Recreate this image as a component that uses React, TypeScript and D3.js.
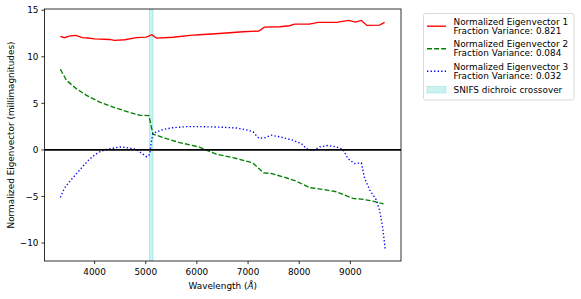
import React from "react";
import * as d3 from "d3";

const redWl = [3330, 3410, 3520, 3630, 3760, 3870, 4000, 4290, 4390, 4590, 4815, 5010, 5120, 5210, 5530, 5920, 6050, 6440, 6900, 7210, 7320, 7620, 7810, 7910, 8200, 8370, 8730, 8970, 9100, 9215, 9325, 9570, 9670];
const redVal = [12.2, 12.05, 12.25, 12.3, 12.05, 12.02, 11.92, 11.86, 11.76, 11.83, 12.05, 12.11, 12.37, 12.0, 12.1, 12.33, 12.37, 12.5, 12.69, 12.76, 13.18, 13.22, 13.33, 13.5, 13.5, 13.69, 13.69, 13.9, 13.72, 13.9, 13.37, 13.4, 13.69];

const greenWl = [3330, 3450, 3640, 3840, 4100, 4390, 4720, 4880, 5060, 5140, 5400, 5660, 6050, 6380, 6700, 7090, 7190, 7300, 7450, 7680, 7940, 8200, 8460, 8730, 9050, 9250, 9440, 9650];
const greenVal = [8.65, 7.47, 6.58, 5.86, 5.14, 4.54, 3.97, 3.72, 3.69, 1.7, 1.22, 0.79, 0.3, -0.46, -0.82, -1.39, -1.89, -2.46, -2.53, -2.89, -3.35, -4.05, -4.24, -4.5, -5.2, -5.32, -5.5, -5.8];

const blueWl = [3330, 3410, 3510, 3640, 3780, 3900, 4000, 4100, 4230, 4490, 4620, 4815, 4910, 5020, 5075, 5110, 5140, 5210, 5340, 5530, 5790, 6050, 6440, 6770, 6970, 7100, 7210, 7320, 7450, 7620, 7880, 8040, 8140, 8270, 8400, 8560, 8730, 8860, 8950, 9080, 9215, 9280, 9380, 9510, 9570, 9630, 9680];
const blueVal = [-5.1, -4.1, -3.4, -2.6, -1.7, -1.0, -0.55, -0.2, 0.04, 0.32, 0.26, 0.04, -0.32, -0.75, -0.5, 0.9, 1.76, 1.93, 2.2, 2.38, 2.5, 2.5, 2.45, 2.35, 2.15, 1.93, 1.25, 1.3, 1.58, 1.4, 1.04, 0.69, 0.15, -0.1, 0.32, 0.47, 0.32, 0.04, -0.92, -1.46, -1.39, -3.07, -4.32, -5.39, -6.46, -8.25, -10.6];

const bandRange = [5070, 5140];
const xTicks = [4000, 5000, 6000, 7000, 8000, 9000];
const yTicks = [-10, -5, 0, 5, 10, 15];
const legendLabels = [
  ["Normalized Eigenvector 1", "Fraction Variance: 0.821"],
  ["Normalized Eigenvector 2", "Fraction Variance: 0.084"],
  ["Normalized Eigenvector 3", "Fraction Variance: 0.032"],
  ["SNIFS dichroic crossover"],
];

const FONT = "DejaVu Sans, sans-serif";

export default function App() {
  const L = 44.5, R = 401, T = 9, B = 261;
  const x = d3.scaleLinear().domain([3020, 9990]).range([L, R]);
  const y = d3.scaleLinear().domain([-11.93, 15.13]).range([B, T]);
  const line = (wl: number[], v: number[]) =>
    d3.line<number>().x((_, i) => x(wl[i])).y((d) => y(d))(v) || "";
  const fmt = (v: number) => (v < 0 ? "\u2212" + Math.abs(v) : String(v));

  const lw = 1.35;
  const series = [
    { d: line(redWl, redVal), color: "#ff0000", dash: "none" },
    { d: line(greenWl, greenVal), color: "#008000", dash: "5,2.1" },
    { d: line(blueWl, blueVal), color: "#0000ff", dash: "1.35,2.2" },
  ];
  const lx0 = 427, lx1 = 446, tx = 453.5;
  const entryY = [[21.7, 30.7], [44.2, 53.2], [66.7, 75.7], [89.7]];

  return (
    <svg width={581} height={299} style={{ position: "absolute", left: 0, top: 0, background: "#fff" }}>
      <rect x={0} y={0} width={581} height={299} fill="#fff" />
      <clipPath id="clip">
        <rect x={L} y={T} width={R - L} height={B - T} />
      </clipPath>
      <g clipPath="url(#clip)">
        <rect x={x(bandRange[0])} y={T} width={x(bandRange[1]) - x(bandRange[0])} height={B - T}
          fill="rgba(0,191,191,0.2)" stroke="rgba(0,191,191,0.25)" strokeWidth={1} />
        {series.map((s, i) => (
          <path key={i} d={s.d} fill="none" stroke={s.color} strokeWidth={lw} strokeDasharray={s.dash} />
        ))}
        <line x1={L} x2={R} y1={y(0)} y2={y(0)} stroke="#000" strokeWidth={1.8} />
      </g>
      <rect x={L} y={T} width={R - L} height={B - T} fill="none" stroke="#000" strokeWidth={0.8} />
      {xTicks.map((t) => (
        <g key={t}>
          <line x1={x(t)} x2={x(t)} y1={B} y2={B + 3.1} stroke="#000" strokeWidth={0.8} />
          <text x={x(t)} y={B + 13.5} fontSize={8.9} fontFamily={FONT} textAnchor="middle">{t}</text>
        </g>
      ))}
      {yTicks.map((t) => (
        <g key={t}>
          <line x1={L - 3.1} x2={L} y1={y(t)} y2={y(t)} stroke="#000" strokeWidth={0.8} />
          <text x={L - 6} y={y(t) + 3.2} fontSize={8.9} fontFamily={FONT} textAnchor="end">{fmt(t)}</text>
        </g>
      ))}
      <text x={(L + R) / 2} y={289} fontSize={8.9} fontFamily={FONT} textAnchor="middle">
        Wavelength (<tspan fontStyle="italic">Å</tspan>)
      </text>
      <text transform={`translate(13.5,${(T + B) / 2}) rotate(-90)`} fontSize={8.9} fontFamily={FONT} textAnchor="middle">
        Normalized Eigenvector (millimagnitudes)
      </text>
      <rect x={423.5} y={13.5} width={150.5} height={86.5} rx={2} fill="rgba(255,255,255,0.8)" stroke="#d0d0d0" strokeWidth={0.8} />
      {legendLabels.map((lines, i) => {
        const ys = entryY[i];
        const mid = ys.length === 2 ? (ys[0] + ys[1]) / 2 : ys[0];
        return (
          <g key={i}>
            {i < 3 ? (
              <line x1={lx0} x2={lx1} y1={mid} y2={mid} stroke={series[i].color} strokeWidth={lw} strokeDasharray={series[i].dash} />
            ) : (
              <rect x={lx0} y={mid - 3.3} width={lx1 - lx0} height={6.6} fill="rgba(0,191,191,0.2)" stroke="rgba(0,191,191,0.25)" strokeWidth={0.8} />
            )}
            {lines.map((t, j) => (
              <text key={j} x={tx} y={ys[j] + 3.2} fontSize={8.9} fontFamily={FONT}>{t}</text>
            ))}
          </g>
        );
      })}
    </svg>
  );
}
